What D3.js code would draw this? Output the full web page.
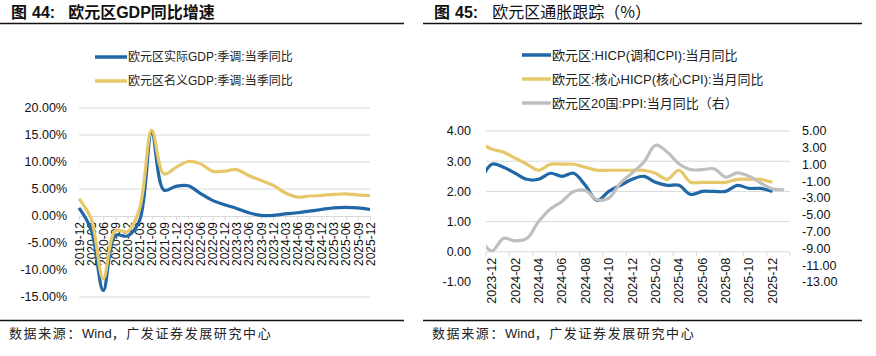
<!DOCTYPE html>
<html><head><meta charset="utf-8">
<script src="https://cdn.jsdelivr.net/npm/d3@7/dist/d3.min.js"></script>
<style>
body{margin:0;background:#fff;}
svg{display:block;font-family:"Liberation Sans","Noto Sans CJK SC",Arial,sans-serif;}
</style></head>
<body><svg id="c" width="876" height="356"></svg>
<script>
// ---------- data: left chart (GDP) ----------
const gdpQuarters = ["2019-12","2020-03","2020-06","2020-09","2020-12","2021-03","2021-06","2021-09","2021-12","2022-03","2022-06","2022-09","2022-12","2023-03","2023-06","2023-09","2023-12","2024-03","2024-06","2024-09","2024-12","2025-03","2025-06","2025-09","2025-12"];
const realGdp    = [1.5,-2.5,-13.8,-3.6,-3.7,-0.8,15.4,4.8,5.5,5.6,4.2,2.9,2.1,1.4,0.6,0.1,0.1,0.4,0.6,0.9,1.2,1.5,1.6,1.5,1.2];
const nominalGdp = [3.2,-0.5,-11.6,-2.7,-2.9,1.4,15.9,7.8,9.0,10.1,9.7,8.3,8.3,8.6,7.5,6.6,5.7,4.3,3.5,3.7,3.8,4.0,4.1,3.9,3.8];
const gdpTicks = [20,15,10,5,0,-5,-10,-15];
const gdpLegend = ["欧元区实际GDP:季调:当季同比","欧元区名义GDP:季调:当季同比"];

// ---------- data: right chart (inflation) ----------
const months = ["2023-11","2023-12","2024-01","2024-02","2024-03","2024-04","2024-05","2024-06","2024-07","2024-08","2024-09","2024-10","2024-11","2024-12","2025-01","2025-02","2025-03","2025-04","2025-05","2025-06","2025-07","2025-08","2025-09","2025-10","2025-11","2025-12","2026-01"];
const hicp = [2.3,2.9,2.8,2.6,2.4,2.4,2.6,2.5,2.6,2.2,1.7,2.0,2.2,2.4,2.5,2.3,2.2,2.2,1.9,2.0,2.0,2.0,2.2,2.1,2.1,2.0];
const coreHicp = [3.6,3.4,3.3,3.1,2.9,2.7,2.9,2.9,2.9,2.8,2.7,2.7,2.7,2.7,2.7,2.6,2.4,2.7,2.3,2.3,2.3,2.3,2.4,2.4,2.4,2.3];
const ppi = [-7.8,-9.3,-7.8,-8.1,-7.8,-5.8,-4.3,-3.4,-2.2,-2.1,-3.2,-3.0,-1.2,0.0,1.3,3.3,2.5,1.1,0.4,0.4,0.5,-0.5,0.0,-0.4,-1.2,-1.9,-2.0];
const leftTicks = [4,3,2,1,0,-1];
const rightTicks = [5,3,1,-1,-3,-5,-7,-9,-11,-13];
const axisMonths = months.slice(1); // categories shown on axis: 2023-12 .. 2026-01
const inflLegend = ["欧元区:HICP(调和CPI):当月同比","欧元区:核心HICP(核心CPI):当月同比","欧元区20国:PPI:当月同比（右）"];

// ---------- styles ----------
const BLUE="#1f67a6", YELLOW="#e6c76a", GRAY="#bfbfbf", GRID="#d9d9d9";
const LAT="'Liberation Sans',Arial,sans-serif";

const svg = d3.select("#c");

// titles
function title(x, num, parts){
  const t = svg.append("text").attr("x",x).attr("y",18).attr("font-size",16).attr("fill","#111")
    .attr("font-family","'Noto Sans CJK SC','Liberation Sans',sans-serif");
  t.append("tspan").attr("font-weight",700).text("图");
  t.append("tspan").attr("font-weight",700).attr("font-family",LAT).attr("dx",5).text(num+":");
  parts.forEach(p=>t.append("tspan").attr("font-weight",p[1]).attr("font-family",p[2]||null).attr("dx",p[3]||null).text(p[0]));
}
title(11,"44",[["欧元区",700,null,13],["GDP",700,LAT],["同比增速",700]]);
title(434,"45",[["欧元区通胀跟踪（%）",400,null,14]]);

// rule lines
[[0,404],[423,862]].forEach(([a,b])=>{
  svg.append("line").attr("x1",a).attr("x2",b).attr("y1",23.5).attr("y2",23.5).attr("stroke","#111").attr("stroke-width",1.3);
  svg.append("line").attr("x1",a).attr("x2",b).attr("y1",320.5).attr("y2",320.5).attr("stroke","#111").attr("stroke-width",1.3);
});
// footers
[9,432].forEach(x=>{
  const t = svg.append("text").attr("x",x).attr("y",338).attr("font-size",13).attr("fill","#222")
    .attr("font-family","'Noto Sans CJK SC','Liberation Sans',sans-serif");
  t.append("tspan").attr("letter-spacing",1.6).text("数据来源：");
  t.append("tspan").attr("font-family",LAT).attr("letter-spacing",0).text("Wind");
  t.append("tspan").attr("letter-spacing",1.6).text("，广发证券发展研究中心");
});

function legend(x1,x2,ys,labels,colors,fs){
  labels.forEach((l,i)=>{
    svg.append("line").attr("x1",x1).attr("x2",x2).attr("y1",ys[i]).attr("y2",ys[i]).attr("stroke",colors[i]).attr("stroke-width",3.5);
    svg.append("text").attr("x",x2+1).attr("y",ys[i]).attr("dy","0.35em").attr("font-size",fs).attr("fill","#222").text(l);
  });
}

// ================= LEFT CHART =================
{
  const x = d3.scalePoint().domain(gdpQuarters).range([79,370]);
  const y = d3.scaleLinear().domain([-15,20]).range([297,108]);
  legend(95,127,[57,81],gdpLegend,[BLUE,YELLOW],12);
  const g = svg.append("g");
  g.append("g").selectAll("line").data(gdpTicks.filter(d=>d!==0)).join("line")
    .attr("x1",79).attr("x2",370).attr("y1",d=>y(d)).attr("y2",d=>y(d)).attr("stroke",GRID);
  g.append("g").selectAll("text").data(gdpTicks).join("text")
    .attr("x",67).attr("y",d=>y(d)).attr("dy","0.35em").attr("text-anchor","end").attr("font-size",12.5).attr("fill","#111")
    .text(d=>d.toFixed(2)+"%");
  g.append("rect").attr("x",74).attr("y",y(0)+2).attr("width",302).attr("height",56).attr("fill","#fff");
  const ax = g.append("g").attr("transform",`translate(0,${y(0)})`)
    .call(d3.axisBottom(x).tickSize(4).tickSizeOuter(0));
  ax.select(".domain").attr("stroke",GRID);
  ax.selectAll(".tick line").attr("stroke",GRID);
  ax.selectAll(".tick text").attr("font-size",12).attr("fill","#111").attr("font-family",LAT)
    .attr("transform","rotate(-90)").attr("text-anchor","end").attr("x",-6).attr("y",0).attr("dy","0.35em");
  const line = (vals)=>d3.line().x((d,i)=>x(gdpQuarters[i])).y(d=>y(d)).curve(d3.curveCatmullRom.alpha(0.5))(vals);
  g.append("path").attr("d",line(realGdp)).attr("fill","none").attr("stroke",BLUE).attr("stroke-width",3.2);
  g.append("path").attr("d",line(nominalGdp)).attr("fill","none").attr("stroke",YELLOW).attr("stroke-width",3.2);
}

// ================= RIGHT CHART =================
{
  const x = d3.scaleBand().domain(axisMonths).range([486,790]).paddingInner(0).paddingOuter(0);
  const step = x.step();
  const px = (m)=> axisMonths.includes(m) ? x(m)+step/2 : x(axisMonths[0]) - step/2; // 2023-11 falls just left of the plot (clipped)
  const yL = d3.scaleLinear().domain([-1,4]).range([282,131]);
  const yR = d3.scaleLinear().domain([-13,5]).range([282,131]);
  legend(522,551,[55,79,103],inflLegend,[BLUE,YELLOW,GRAY],13);
  const g = svg.append("g");
  g.append("defs").append("clipPath").attr("id","clipR").append("rect").attr("x",486).attr("y",100).attr("width",304).attr("height",200);
  g.append("g").selectAll("line").data(leftTicks.filter(d=>d!==0)).join("line")
    .attr("x1",486).attr("x2",790).attr("y1",d=>yL(d)).attr("y2",d=>yL(d)).attr("stroke",GRID);
  g.append("g").selectAll("text").data(leftTicks).join("text")
    .attr("x",471).attr("y",d=>yL(d)).attr("dy","0.35em").attr("text-anchor","end").attr("font-size",12.5).attr("fill","#111")
    .text(d=>d.toFixed(2));
  g.append("g").selectAll("text").data(rightTicks).join("text")
    .attr("x",802).attr("y",d=>yR(d)).attr("dy","0.35em").attr("text-anchor","start").attr("font-size",12.5).attr("fill","#111")
    .text(d=>d.toFixed(2));
  g.append("rect").attr("x",480).attr("y",yL(0)+2).attr("width",316).attr("height",60).attr("fill","#fff");
  g.append("line").attr("x1",486).attr("x2",790).attr("y1",yL(0)).attr("y2",yL(0)).attr("stroke",GRID);
  const tickEdges = axisMonths.filter((m,i)=>i%2===0).map(m=>x(m)).concat([790]);
  g.append("g").selectAll("line").data(tickEdges).join("line")
    .attr("x1",d=>d).attr("x2",d=>d).attr("y1",yL(0)).attr("y2",yL(0)+4).attr("stroke",GRID);
  g.append("g").selectAll("text").data(axisMonths.filter((m,i)=>i%2===0 && m!=="2026-01")).join("text")
    .attr("transform",d=>`translate(${px(d)},${yL(0)+6}) rotate(-90)`)
    .attr("text-anchor","end").attr("dy","0.35em").attr("font-size",12.5).attr("fill","#111").text(d=>d);
  const lines = g.append("g").attr("clip-path","url(#clipR)");
  const mk = (vals,ys)=>d3.line().x((d,i)=>px(months[i])).y(d=>ys(d)).curve(d3.curveCatmullRom.alpha(0.5))(vals);
  lines.append("path").attr("d",mk(hicp,yL)).attr("fill","none").attr("stroke",BLUE).attr("stroke-width",3.2);
  lines.append("path").attr("d",mk(coreHicp,yL)).attr("fill","none").attr("stroke",YELLOW).attr("stroke-width",3.2);
  lines.append("path").attr("d",mk(ppi,yR)).attr("fill","none").attr("stroke",GRAY).attr("stroke-width",3.2);
}
</script></body></html>
